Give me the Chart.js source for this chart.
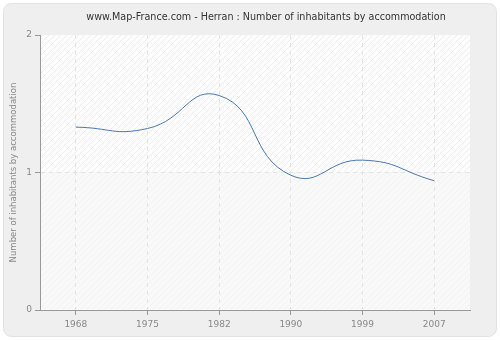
<!DOCTYPE html>
<html>
<head>
<meta charset="utf-8">
<script src="https://cdn.jsdelivr.net/npm/chart.js@4/dist/chart.umd.min.js"></script>
<style>
  html, body { margin: 0; padding: 0; background: #fff; }
  #wrap { width: 500px; height: 340px; }
</style>
</head>
<body>
<div id="wrap"><canvas id="myChart" width="500" height="340"></canvas></div>
<script>
const years = ['1968', '1975', '1982', '1990', '1999', '2007'];
const inhabitants = [1.33, 1.32, 1.56, 0.98, 1.09, 0.94];
const yTicks = [0, 1, 2];
const titleText = 'www.Map-France.com - Herran : Number of inhabitants by accommodation';

function makeHatch(bg, line) {
    const c = document.createElement('canvas');
    c.width = 6; c.height = 6;
    const g = c.getContext('2d');
    g.fillStyle = bg;
    g.fillRect(0, 0, 6, 6);
    g.strokeStyle = line;
    g.lineWidth = 1;
    g.beginPath();
    g.moveTo(0, 6); g.lineTo(6, 0);
    g.moveTo(-3, 3); g.lineTo(3, -3);
    g.moveTo(3, 9); g.lineTo(9, 3);
    g.stroke();
    return g.createPattern(c, 'repeat');
}

const panel = {
    id: 'panel',
    beforeDraw(chart) {
        const c = chart.ctx;
        const a = chart.chartArea;
        c.save();
        c.fillStyle = '#ffffff';
        c.fillRect(0, 0, chart.width, chart.height);
        c.beginPath();
        c.roundRect(3.5, 3.5, chart.width - 7, chart.height - 7, 8);
        c.fillStyle = '#efefef';
        c.fill();
        c.strokeStyle = '#e2e2e2';
        c.lineWidth = 1;
        c.stroke();
        // plot background: hatched upper part, lighter lower part
        const yMid = chart.scales.y.getPixelForValue(1);
        c.fillStyle = makeHatch('#fdfdfd', '#eeeeee');
        c.fillRect(a.left, a.top, a.right - a.left, yMid - a.top);
        c.fillStyle = makeHatch('#f9f9f9', '#f2f2f2');
        c.fillRect(a.left, yMid, a.right - a.left, a.bottom - yMid);
        // title
        c.fillStyle = '#333333';
        c.font = '9.6px "DejaVu Sans", Verdana, sans-serif';
        c.textAlign = 'center';
        c.textBaseline = 'middle';
        c.fillText(titleText, 266, 17);
        c.restore();
    }
};

const ctx = document.getElementById('myChart').getContext('2d');

const myChart = new Chart(ctx, {
    type: 'line',
    data: {
        labels: years,
        datasets: [{
            data: inhabitants,
            borderColor: '#4a78ae',
            borderWidth: 1,
            pointRadius: 0,
            tension: 0.5,
            fill: false
        }]
    },
    options: {
        responsive: false,
        animation: false,
        layout: { padding: { top: 35, right: 30, left: 9, bottom: 0 } },
        plugins: {
            legend: { display: false },
            title: { display: false },
            tooltip: { enabled: false }
        },
        scales: {
            x: {
                offset: true,
                grid: {
                    offset: false,
                    color: '#e3e3e3',
                    tickColor: '#999999',
                    tickLength: 5,
                    tickBorderDash: []
                },
                border: { color: '#999999', dash: [4, 4] },
                ticks: {
                    color: '#888888',
                    font: { family: '"DejaVu Sans", Verdana, sans-serif', size: 9 },
                    padding: 4
                },
                afterFit(scale) { scale.height = 30; }
            },
            y: {
                min: 0,
                max: 2,
                afterBuildTicks(scale) { scale.ticks = yTicks.map(v => ({ value: v })); },
                grid: {
                    color: c => (c.tick && c.tick.value === 1 ? '#e3e3e3' : 'rgba(0,0,0,0)'),
                    tickColor: '#999999',
                    tickLength: 5,
                    tickBorderDash: []
                },
                border: { color: '#999999', dash: [4, 4] },
                ticks: {
                    color: '#888888',
                    font: { family: '"DejaVu Sans", Verdana, sans-serif', size: 9 },
                    padding: 3
                },
                title: {
                    display: true,
                    text: 'Number of inhabitants by accommodation',
                    color: '#888888',
                    font: { family: '"DejaVu Sans", Verdana, sans-serif', size: 8.5 },
                    padding: { top: 0, bottom: 2 }
                },
                afterFit(scale) { scale.width = 31; }
            }
        }
    },
    plugins: [panel]
});
</script>
</body>
</html>
